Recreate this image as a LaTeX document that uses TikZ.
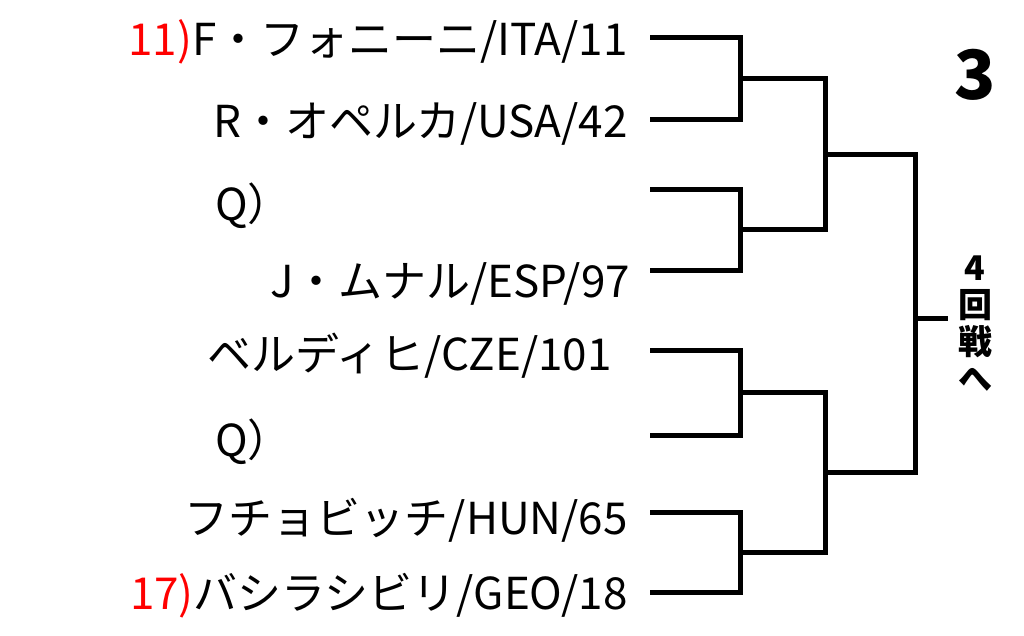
\documentclass[tikz,border=0pt]{standalone}
\usepackage{fontspec}
\setmainfont{Noto Sans CJK JP}
\usetikzlibrary{positioning}

\begin{document}
\begin{tikzpicture}[x=1pt,y=-1pt,
                      player/.style={anchor=east, inner sep=0pt, font=\fontsize{44}{44}\selectfont},
                      bline/.style={line width=5pt, line cap=rect},
                  ]
                  \useasboundingbox (0,0) rectangle (1024,636);
                  % Players
                  \node[player] (p_1) at (628,42)  {\textcolor{red}{11)}F・フォニーニ/ITA/11};
                  \node[player] (p_2) at (628,124) {R・オペルカ/USA/42};
                  \node[player, anchor=west] (p_3) at (215,206) {Q）};
                  \node[player] (p_4) at (630,284) {J・ムナル/ESP/97};
                  \node[player] (p_5) at (612,356) {ベルディヒ/CZE/101};
                  \node[player, anchor=west] (p_6) at (215,442) {Q）};
                  \node[player] (p_7) at (628,520) {フチョビッチ/HUN/65};
                  \node[player] (p_8) at (628,596) {\textcolor{red}{17)}バシラシビリ/GEO/18};

                  \node[font=\fontsize{68}{68}\selectfont\bfseries] (round) at (975,75) {3};
                  \node[font=\fontsize{34}{37}\selectfont\bfseries, align=center] (next) at (975,324) {4\\回\\戦\\へ};

                  % Bracket
                  \foreach \i/\y in {1/38,2/120,3/190,4/270,5/350,6/435,7/512,8/592}
                      \coordinate (s_\i) at (652,\y);
                  \coordinate (r1_a) at (740,79);
                  \coordinate (r1_b) at (740,230);
                  \coordinate (r1_c) at (740,392);
                  \coordinate (r1_d) at (740,552);
                  \coordinate (r2_a) at (825,155);
                  \coordinate (r2_b) at (825,472);
                  \coordinate (fin) at (915,318);
                  \coordinate (out) at (945,318);

                  %Lines
                  \draw[bline] (s_1) -| (r1_a) |- (s_2);
                  \draw[bline] (s_3) -| (r1_b) |- (s_4);
                  \draw[bline] (s_5) -| (r1_c) |- (s_6);
                  \draw[bline] (s_7) -| (r1_d) |- (s_8);
                  \draw[bline] (r1_a) -| (r2_a) |- (r1_b);
                  \draw[bline] (r1_c) -| (r2_b) |- (r1_d);
                  \draw[bline] (r2_a) -| (fin) |- (r2_b);
                  \draw[bline] (fin) -- (out);
\end{tikzpicture}
\end{document}
